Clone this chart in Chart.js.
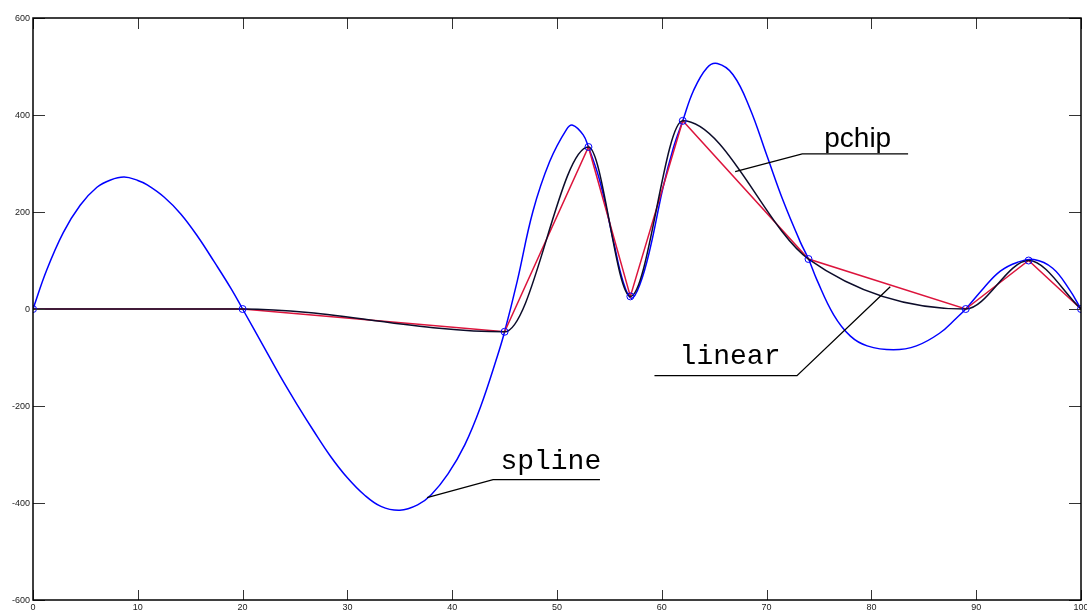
<!DOCTYPE html>
<html>
<head>
<meta charset="utf-8">
<script src="https://cdn.jsdelivr.net/npm/chart.js@4.4.1/dist/chart.umd.min.js"></script>
<style>
  html, body { margin: 0; padding: 0; background: #fff; }
  canvas { display: block; }
</style>
</head>
<body>
<canvas id="interp__canvas" width="1087" height="613"></canvas>
<script>
// sample points (the "o" markers)
const xData = [0, 20, 45, 53, 57, 62, 74, 89, 95, 100];
const yData = [0, 0, -47, 334, 26, 388, 103, 0, 100, 0];

// spline curve
const splineX = [0, 1.3, 2.9, 4.5, 6.1, 7.4, 8.7, 10, 10.9, 12.5, 14.1, 15.7, 17.3, 18.9, 20,
  22, 23.6, 25.2, 26.8, 28.4, 30, 31.6, 33.2, 35, 36.7, 38, 39.6, 41.2, 42.7, 44.3, 45,
  46.2, 47.7, 49.3, 50.9, 51.5, 52.5, 53, 54.1, 55.4, 56.3, 57.1, 57.9, 58.9, 60.1, 61.1, 62,
  63, 64.3, 65.3, 66.8, 68.4, 70, 71.6, 73.2, 74, 74.8, 76.4, 78, 79.6, 82.1, 84.3, 86.5, 88.1, 89,
  90.7, 92.3, 93.9, 95.5, 97.3, 98.9, 100];
const splineY = [0, 80, 158, 214, 251, 266, 272, 265, 256, 231, 196, 150, 97, 42, 0,
  -77, -139, -197, -252, -304, -348, -383, -407, -415, -404, -383, -340, -280, -202, -98, -47,
  57, 201, 304, 370, 379, 359, 334, 263, 139, 57, 22, 50, 126, 249, 332, 388,
  449, 497, 506, 483, 414, 318, 222, 139, 103, 60, -12, -56, -76, -84, -76, -50, -19, 0,
  43, 78, 96, 102, 84, 40, 0];

const xTicks = [0, 10, 20, 30, 40, 50, 60, 70, 80, 90, 100];
const yTicks = [-600, -400, -200, 0, 200, 400, 600];

// text callouts, placed in data units
const notes = [
  { text: "pchip", font: "28px 'Liberation Sans', Arial, sans-serif", at: [75.5, 333], path: [[67.0, 283], [73.4, 320], [83.5, 320]] },
  { text: "linear", font: "28px 'Liberation Mono', 'Courier New', monospace", at: [61.7, -113], path: [[81.8, 46], [72.9, -137.5], [59.3, -137.5]] },
  { text: "spline", font: "28px 'Liberation Mono', 'Courier New', monospace", at: [44.6, -329], path: [[37.6, -389], [43.9, -352], [54.1, -352]] },
];

function toPoints(xs, ys) {
  return xs.map((x, i) => ({ x, y: ys[i] }));
}

const framePlugin = {
  id: "frame",
  afterDraw(chart) {
    const { ctx, chartArea: a } = chart;
    const xs = chart.scales.x;
    const ys = chart.scales.y;
    ctx.save();

    // inward ticks on all four sides
    ctx.strokeStyle = "#333";
    ctx.lineWidth = 1;
    ctx.beginPath();
    xTicks.forEach((v) => {
      const px = Math.round(xs.getPixelForValue(v)) + 0.5;
      ctx.moveTo(px, a.bottom);
      ctx.lineTo(px, a.bottom - 10);
      ctx.moveTo(px, a.top);
      ctx.lineTo(px, a.top + 11);
    });
    yTicks.forEach((v) => {
      const py = Math.round(ys.getPixelForValue(v)) + 0.5;
      ctx.moveTo(a.left, py);
      ctx.lineTo(a.left + 12, py);
      ctx.moveTo(a.right, py);
      ctx.lineTo(a.right - 12, py);
    });
    ctx.stroke();

    ctx.strokeStyle = "#000";
    ctx.lineWidth = 1.5;
    ctx.strokeRect(a.left, a.top, a.right - a.left, a.bottom - a.top);

    ctx.fillStyle = "#222";
    ctx.font = "9px 'Liberation Sans', Arial, sans-serif";
    ctx.textAlign = "center";
    ctx.textBaseline = "top";
    xTicks.forEach((v) => ctx.fillText(String(v), xs.getPixelForValue(v), a.bottom + 3));
    ctx.textAlign = "right";
    ctx.textBaseline = "middle";
    yTicks.forEach((v) => ctx.fillText(String(v), a.left - 3, ys.getPixelForValue(v) + 1));

    // callouts
    ctx.strokeStyle = "#000";
    ctx.lineWidth = 1.3;
    ctx.fillStyle = "#000";
    ctx.textAlign = "left";
    ctx.textBaseline = "alphabetic";
    notes.forEach((n) => {
      ctx.beginPath();
      n.path.forEach(([vx, vy], i) => {
        const px = xs.getPixelForValue(vx);
        const py = ys.getPixelForValue(vy);
        if (i === 0) ctx.moveTo(px, py);
        else ctx.lineTo(px, py);
      });
      ctx.stroke();
      ctx.font = n.font;
      ctx.fillText(n.text, xs.getPixelForValue(n.at[0]), ys.getPixelForValue(n.at[1]));
    });

    ctx.restore();
  },
};

function makeChart() {
  const ctx = document.getElementById("interp__canvas").getContext("2d");
  return new Chart(ctx, {
    type: "line",
    data: {
      datasets: [
        {
          label: "data",
          data: toPoints(xData, yData),
          showLine: false,
          pointRadius: 3.5,
          pointBorderWidth: 1,
          pointBorderColor: "#0000ff",
          pointBackgroundColor: "rgba(0,0,0,0)",
        },
        {
          label: "pchip",
          data: toPoints(xData, yData),
          borderColor: "#0c0c2a",
          borderWidth: 1.5,
          pointRadius: 0,
          cubicInterpolationMode: "monotone",
        },
        {
          label: "linear",
          data: toPoints(xData, yData),
          borderColor: "#dc143c",
          borderWidth: 1.5,
          pointRadius: 0,
          tension: 0,
        },
        {
          label: "spline",
          data: toPoints(splineX, splineY),
          borderColor: "#0000ff",
          borderWidth: 1.5,
          pointRadius: 0,
          tension: 0.4,
        },
      ],
    },
    options: {
      responsive: false,
      animation: false,
      devicePixelRatio: 1,
      layout: { padding: { top: 18, right: 6, left: 0, bottom: 0 } },
      plugins: {
        legend: { display: false },
        tooltip: { enabled: false },
        title: { display: false },
      },
      scales: {
        x: {
          type: "linear",
          min: 0,
          max: 100,
          ticks: { display: false, stepSize: 10 },
          grid: { display: false },
          border: { display: false },
          afterFit: (scale) => { scale.height = 13; },
        },
        y: {
          type: "linear",
          min: -600,
          max: 600,
          ticks: { display: false, stepSize: 200 },
          grid: { display: false },
          border: { display: false },
          afterFit: (scale) => { scale.width = 33; },
        },
      },
    },
    plugins: [framePlugin],
  });
}

makeChart();
</script>
</body>
</html>
